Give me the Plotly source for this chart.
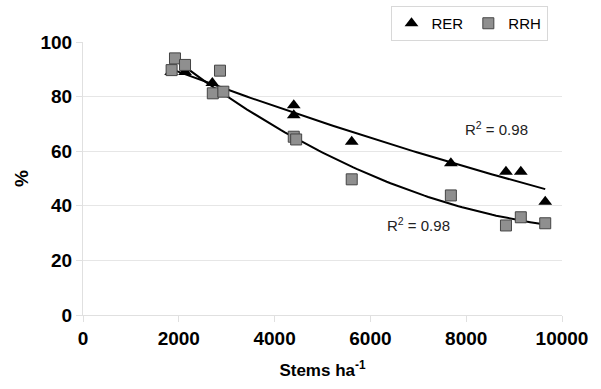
import numpy as np
import plotly.graph_objects as go

# Data
rer_x = [1840, 2130, 2700, 4400, 4400, 5610, 7680, 8830, 9140, 9650]
rer_y = [89.0, 89.0, 85.0, 76.8, 73.2, 63.5, 55.6, 52.5, 52.5, 41.5]

rrh_x = [1850, 1920, 2130, 2710, 2860, 2930, 4400, 4450, 5610, 7680, 8830, 9140, 9650]
rrh_y = [89.7, 94.0, 91.6, 81.2, 89.5, 81.8, 65.3, 64.3, 49.7, 43.8, 32.8, 35.8, 33.6]

x_ticks = [0, 2000, 4000, 6000, 8000, 10000]
y_ticks = [0, 20, 40, 60, 80, 100]

# Polynomial (order 2) trend lines fitted from the data
def trend(xs, ys):
    c = np.polyfit(xs, ys, 2)
    xx = np.linspace(min(xs), max(xs), 100)
    return xx, np.polyval(c, xx)

tx1, ty1 = trend(rer_x, rer_y)
tx2, ty2 = trend(rrh_x, rrh_y)

FONT = "Liberation Sans, Arial, sans-serif"

fig = go.Figure()
fig.add_trace(go.Scatter(x=tx1, y=ty1, mode="lines", line=dict(color="black", width=2),
                         showlegend=False, hoverinfo="skip"))
fig.add_trace(go.Scatter(x=tx2, y=ty2, mode="lines", line=dict(color="black", width=2),
                         showlegend=False, hoverinfo="skip"))
fig.add_trace(go.Scatter(x=rer_x, y=rer_y, mode="markers", name="RER",
                         marker=dict(symbol="triangle-up", size=12, color="black")))
fig.add_trace(go.Scatter(x=rrh_x, y=rrh_y, mode="markers", name="RRH",
                         marker=dict(symbol="square", size=11, color="#8f8f8f",
                                     line=dict(color="#444444", width=1))))

fig.add_annotation(x=8640, y=68.5, text="R<sup>2</sup> = 0.98", showarrow=False,
                   font=dict(size=15, color="#222222", family=FONT))
fig.add_annotation(x=7000, y=33, text="R<sup>2</sup> = 0.98", showarrow=False,
                   font=dict(size=15, color="#222222", family=FONT))

fig.update_layout(
    width=601, height=389,
    margin=dict(l=83, r=39, t=42, b=74),
    paper_bgcolor="white", plot_bgcolor="white",
    font=dict(family=FONT, color="black"),
    showlegend=True,
    legend=dict(orientation="h", x=469 / 601, y=1 - 6 / 389, xref="container", yref="container",
                xanchor="center", yanchor="top",
                bordercolor="#d8d8d8", borderwidth=1, font=dict(size=15, family=FONT),
                itemwidth=30, tracegroupgap=0, bgcolor="white"),
    xaxis=dict(range=[0, 10000], tickvals=x_ticks, ticktext=["<b>%d</b>" % v for v in x_ticks],
               showgrid=False, zeroline=False, showline=True, linecolor="#e0e0e0", linewidth=1,
               ticks="outside", ticklen=6, tickcolor="#e0e0e0", automargin=False,
               tickfont=dict(size=19, family=FONT, color="black"),
               title=dict(text="<b>Stems ha<sup>-1</sup></b>", font=dict(size=17, family=FONT),
                          standoff=16)),
    yaxis=dict(range=[0, 100], tickvals=y_ticks, ticktext=["<b>%d</b>" % v for v in y_ticks],
               showgrid=True, gridcolor="#e6e6e6",
               zeroline=False, showline=True, linecolor="#e0e0e0", linewidth=1,
               ticks="outside", ticklen=6, tickcolor="#e0e0e0", automargin=False,
               tickfont=dict(size=19, family=FONT, color="black"),
               title=dict(text="<b>%</b>", font=dict(size=19, family=FONT), standoff=6)),
)

fig.write_html("out.html", config={"displayModeBar": False},
               post_script="document.body.style.margin='0';")
